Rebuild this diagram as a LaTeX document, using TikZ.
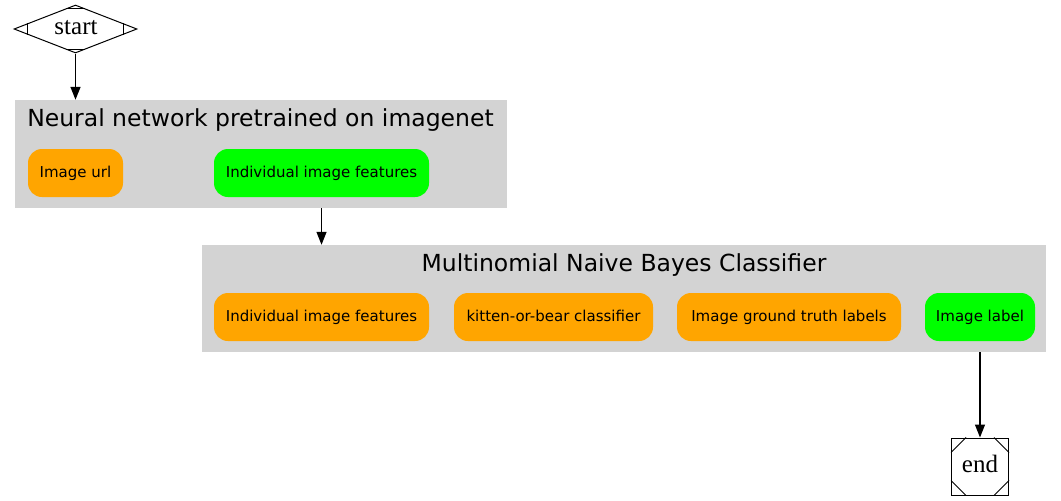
\documentclass[tikz,border=0pt]{standalone}
\usepackage{fontspec}
\usetikzlibrary{shapes.geometric,arrows.meta,calc}
\newfontfamily\dvfont{DejaVu Sans}
\newfontfamily\serfont{Liberation Serif}
\definecolor{gvorange}{HTML}{FFA500}
\definecolor{gvgreen}{HTML}{00FF00}
\definecolor{gvgray}{HTML}{D3D3D3}
\tikzset{
  gnode/.style={rectangle, rounded corners=14pt, draw=none, minimum height=48pt,
    inner sep=0pt, text height=11pt, text depth=3pt, font=\dvfont\fontsize{15}{17}\selectfont},
  cluster/.style={rectangle, fill=gvgray, draw=none, inner sep=0pt},
  ctitle/.style={anchor=base, inner sep=0pt, font=\dvfont\fontsize{23.5}{26}\selectfont},
  arr/.style={-{Triangle[length=13pt,width=10pt]}, line width=1.3pt, black},
  thin line/.style={line width=1pt},
  serlabel/.style={anchor=base, inner sep=0pt, font=\serfont\fontsize{25}{27}\selectfont}
}
\begin{document}
\begin{tikzpicture}[x=1pt,y=-1pt]
\useasboundingbox (0,0) rectangle (1061,501);
% clusters
\node[cluster, minimum width=492pt, minimum height=108pt] (c1) at (261,154) {};
\node[ctitle] (t1) at (260.5,126) {Neural network pretrained on imagenet};
\node[cluster, minimum width=844pt, minimum height=107pt] (c2) at (624,298.5) {};
\node[ctitle] (t2) at (624,271) {Multinomial Naive Bayes Classifier};
% cluster 1 nodes
\node[gnode, fill=gvorange, minimum width=95pt] (url) at (75.5,173) {Image url};
\node[gnode, fill=gvgreen, minimum width=215pt] (feat1) at (321.5,173) {Individual image features};
% cluster 2 nodes
\node[gnode, fill=gvorange, minimum width=215pt] (feat2) at (321.5,317) {Individual image features};
\node[gnode, fill=gvorange, minimum width=199pt] (kob) at (553.5,317) {kitten-or-bear classifier};
\node[gnode, fill=gvorange, minimum width=224pt] (gt) at (789,317) {Image ground truth labels};
\node[gnode, fill=gvgreen, minimum width=110pt] (lab) at (980,317) {Image label};
% start
\node[diamond, draw, line width=1pt, fill=white, aspect=2.56, minimum width=123pt, minimum height=48pt, inner sep=0pt] (start) at (75.5,29) {};
\node[serlabel] (starttxt) at (76,34) {start};
\draw[thin line] ($(start.west)!0.228!(start.north)$) -- ($(start.west)!0.228!(start.south)$);
\draw[thin line] ($(start.east)!0.228!(start.north)$) -- ($(start.east)!0.228!(start.south)$);
\draw[thin line] ($(start.north)!0.146!(start.west)$) -- ($(start.north)!0.146!(start.east)$);
\draw[thin line] ($(start.south)!0.146!(start.west)$) -- ($(start.south)!0.146!(start.east)$);
% end
\node[rectangle, draw, line width=1pt, fill=white, minimum width=57pt, minimum height=57pt, inner sep=0pt] (end) at (980,466.5) {};
\node[serlabel] (endtxt) at (980,472) {end};
\draw[thin line] ($(end.north west)+(0,15)$) -- ($(end.north west)+(15,0)$);
\draw[thin line] ($(end.north east)+(0,15)$) -- ($(end.north east)+(-15,0)$);
\draw[thin line] ($(end.south west)+(0,-15)$) -- ($(end.south west)+(15,0)$);
\draw[thin line] ($(end.south east)+(0,-15)$) -- ($(end.south east)+(-15,0)$);
% edges
\draw[arr] (start.south) -- (start.south |- c1.north);
\draw[arr] (feat1 |- c1.south) -- (feat1 |- c2.north);
\draw[arr] (lab |- c2.south) -- (end.north);
\end{tikzpicture}
\end{document}
